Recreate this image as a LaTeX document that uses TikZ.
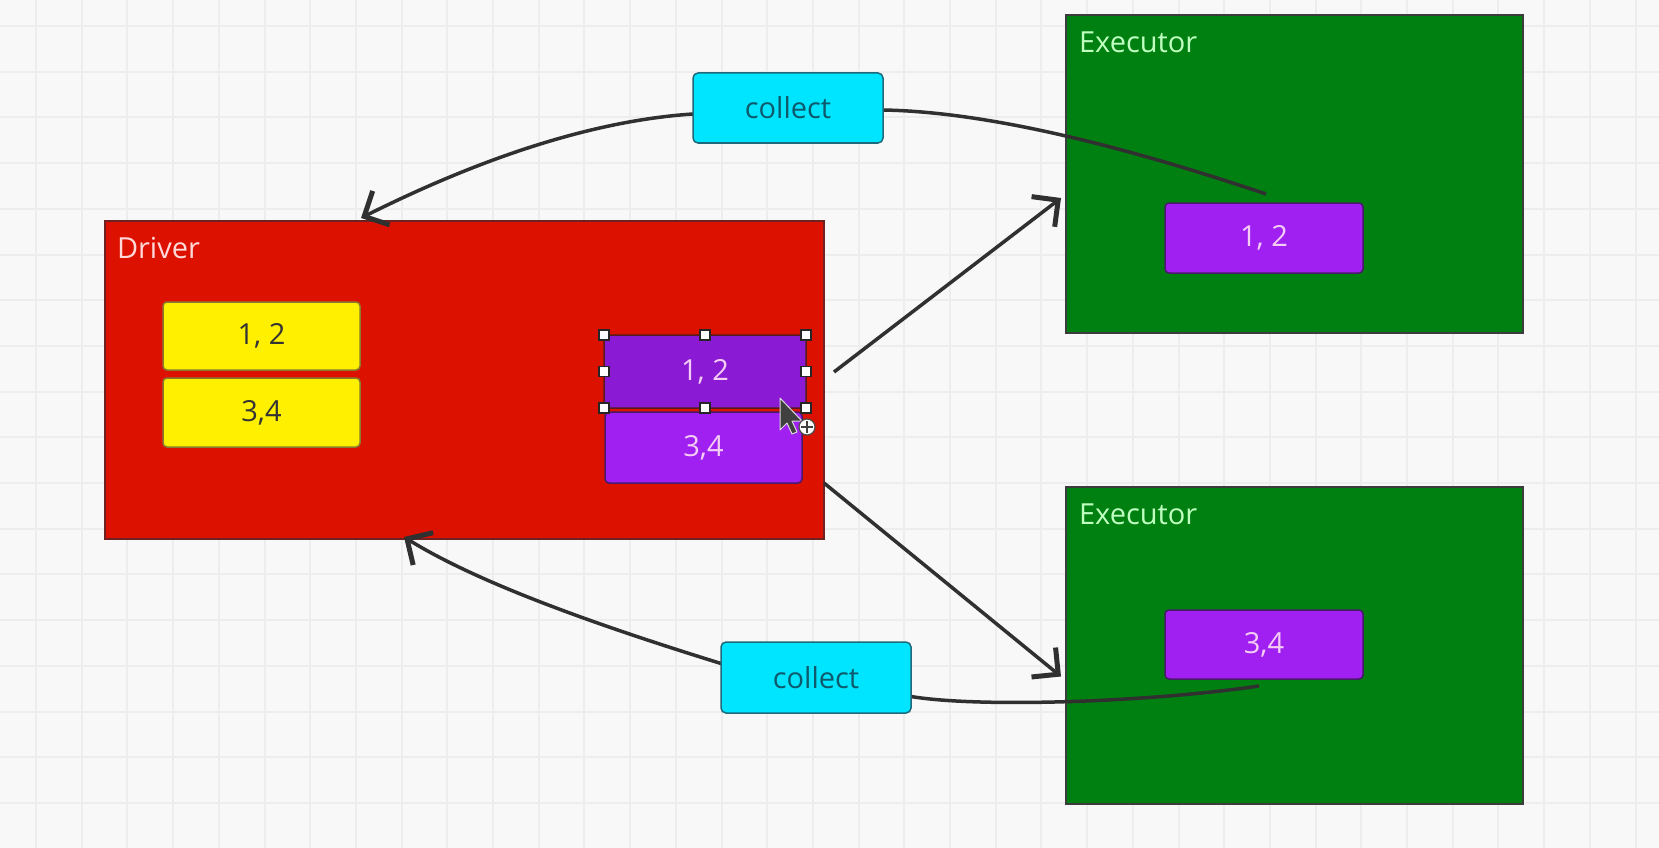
\documentclass[tikz,border=0pt]{standalone}
\usepackage{fontspec}
\setmainfont{Open Sans}
\usetikzlibrary{arrows.meta}

\definecolor{canvas}{HTML}{F8F8F8}
\definecolor{gridline}{HTML}{EDEDED}
\definecolor{driverred}{HTML}{DD1100}
\definecolor{driveredge}{HTML}{6E2222}
\definecolor{execgreen}{HTML}{008010}
\definecolor{execedge}{HTML}{3C3C3C}
\definecolor{partpurple}{HTML}{A020F2}
\definecolor{partsel}{HTML}{8A1AD4}
\definecolor{partedge}{HTML}{4A1A6A}
\definecolor{parttext}{HTML}{F4CCF4}
\definecolor{partyellow}{HTML}{FFF000}
\definecolor{yellowedge}{HTML}{8A7A30}
\definecolor{collectcyan}{HTML}{00E5FF}
\definecolor{collectedge}{HTML}{1E6A7A}
\definecolor{collecttext}{HTML}{0C5A6C}
\definecolor{linkgray}{HTML}{303030}

\pgfdeclarelayer{front}
\pgfsetlayers{main,front}

\begin{document}
\begin{tikzpicture}[x=1pt,y=-1pt,
  every node/.style={font=\fontsize{29}{34}\selectfont, inner sep=0pt, outer sep=0pt},
  bigbox/.style={draw, line width=2pt, anchor=north west},
  part/.style={draw=partedge, line width=1.5pt, rounded corners=4pt, fill=partpurple,
               text=parttext, minimum width=198pt, minimum height=70pt},
  yellowpart/.style={draw=yellowedge, line width=1.5pt, rounded corners=4pt, fill=partyellow,
               text=black!80, minimum width=197pt, minimum height=68pt},
  collectbox/.style={draw=collectedge, line width=1.5pt, rounded corners=5pt, fill=collectcyan,
               text=collecttext, minimum width=190pt, minimum height=70pt},
  boxlabel/.style={anchor=west},
  link/.style={draw=linkgray, line width=3.5pt},
  barb/.style={-{Straight Barb[length=19pt,width=38pt,line width=5pt]}},
  handle/.style={draw=black!85, fill=white, line width=1.5pt, minimum size=10pt}
]
% canvas with its grid
\fill[canvas] (0,0) rectangle (1659,848);
\useasboundingbox (0,0) rectangle (1659,848);
\foreach \i in {0,...,35} \draw[gridline, line width=2pt] ({36+45.7*\i},0) -- ({36+45.7*\i},848);
\foreach \j in {0,...,18} \draw[gridline, line width=2pt] (0,{26+45.7*\j}) -- (1659,{26+45.7*\j});

% driver and executors
\node[bigbox, draw=driveredge, fill=driverred, minimum width=719pt, minimum height=318pt] (driver) at (105,221) {};
\node[boxlabel, text=red!15] (driverlbl) at (117,248) {Driver};
\node[bigbox, draw=execedge, fill=execgreen, minimum width=457pt, minimum height=318pt] (exec1) at (1066,15) {};
\node[boxlabel, text=green!25] (exec1lbl) at (1079,42) {Executor};
\node[bigbox, draw=execedge, fill=execgreen, minimum width=457pt, minimum height=317pt] (exec2) at (1066,487) {};
\node[boxlabel, text=green!25] (exec2lbl) at (1079,514) {Executor};

% partitions inside the driver
\node[yellowpart] (y1) at (261.5,336) {1, 2};
\node[yellowpart, minimum height=69pt] (y2) at (261.5,412.5) {3,4};
\node[part, fill=partsel, draw=driveredge!80!black, minimum width=202pt, minimum height=73pt] (dp1) at (705,371.5) {1, 2};
\node[part, minimum width=197pt, minimum height=71pt] (dp2) at (703.5,447.5) {3,4};

% partitions on the executors
\node[part] (ex1p) at (1264,238) {1, 2};
\node[part, minimum height=69pt] (ex2p) at (1264,644.5) {3,4};

% collect labels sit on top of their links
\begin{pgfonlayer}{front}
\node[collectbox] (c1) at (788,108) {collect};
\node[collectbox, minimum height=71pt] (c2) at (816,677.5) {collect};
\end{pgfonlayer}

% distributing the partitions
\draw[link, barb] ([xshift=10pt,yshift=8pt]driver.east) -- ([xshift=-5pt,yshift=-24pt]exec1.west);
\draw[link, barb] ([yshift=-103pt]driver.east) -- ([xshift=-5pt,yshift=-31pt]exec2.west);

% collecting the results back
\draw[link, barb] ([xshift=2pt,yshift=9pt]ex1p.north)
   .. controls (1150,155) and (1000,112) .. ([yshift=-2pt]c1.east)
   -- ([yshift=-6pt]c1.west)
   .. controls (570,122) and (445,176) .. ([xshift=256pt,yshift=3pt]driver.north west);
\draw[link, barb] ([xshift=-5pt,yshift=-7pt]ex2p.south)
   .. controls (1150,702) and (980,708) .. ([yshift=-19pt]c2.east)
   -- ([yshift=14pt]c2.west)
   .. controls (600,626) and (480,584) .. ([xshift=299pt,yshift=2pt]driver.south west);

\begin{pgfonlayer}{front}
% selection handles round the chosen partition
\foreach \a in {north west,north,north east,west,east,south west,south,south east}
  \node[handle] at (dp1.\a) {};

% mouse pointer with the move sign
\begin{scope}[shift={(780,398)}]
  \filldraw[fill=black!75, draw=white!85!black, line width=1pt, line join=round]
    (0,0) -- (0,32) -- (7,25) -- (12,36) -- (17,34) -- (12,23) -- (22,23) -- cycle;
  \filldraw[fill=white, draw=black!70, line width=1.2pt] (27,29) circle (8pt);
  \draw[black!75, line width=2pt] (21,29) -- (33,29) (27,23) -- (27,35);
\end{scope}
\end{pgfonlayer}
\end{tikzpicture}
\end{document}
